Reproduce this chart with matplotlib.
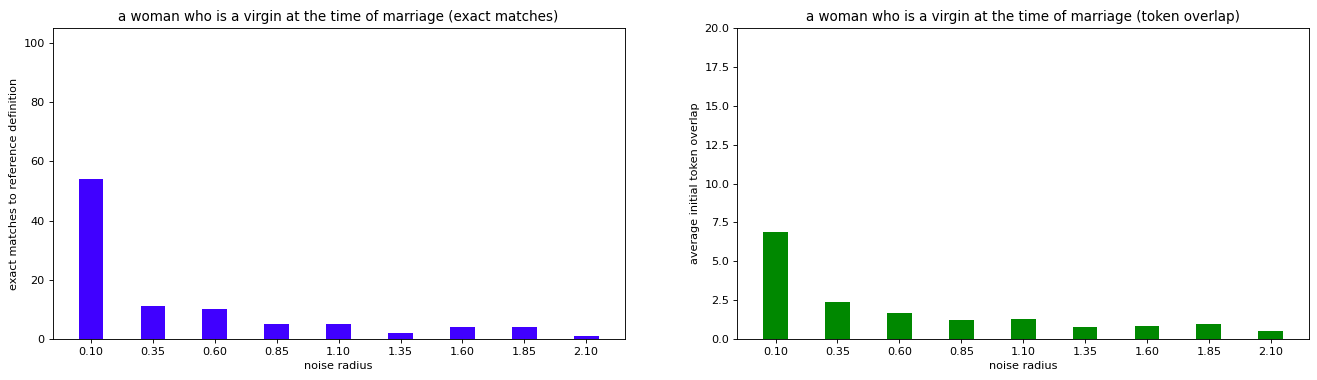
import matplotlib
matplotlib.use("Agg")
import matplotlib.pyplot as plt
import numpy as np

radii = ["0.10", "0.35", "0.60", "0.85", "1.10", "1.35", "1.60", "1.85", "2.10"]
exact_matches = [54, 11, 10, 5, 5, 2, 4, 4, 1]
token_overlap = [6.9, 2.38, 1.67, 1.2, 1.27, 0.77, 0.84, 0.94, 0.51]

phrase = "a woman who is a virgin at the time of marriage"

# smaller dpi so text comes out at the reference's scale
DPI = 81
fig, (ax1, ax2) = plt.subplots(1, 2, figsize=(1317 / DPI, 380 / DPI), dpi=DPI)
x = np.arange(len(radii))

ax1.bar(x, exact_matches, width=0.4, color="#4000ff")
ax1.set_xticks(x)
ax1.set_xticklabels(radii)
ax1.set_ylim(0, 105)
ax1.set_xlabel("noise radius")
ax1.set_ylabel("exact matches to reference definition")
ax1.set_title(phrase + " (exact matches)")

ax2.bar(x, token_overlap, width=0.4, color="#008800")
ax2.set_xticks(x)
ax2.set_xticklabels(radii)
ax2.set_ylim(0, 20)
ax2.set_xlabel("noise radius")
ax2.set_ylabel("average initial token overlap")
ax2.set_title(phrase + " (token overlap)")

fig.subplots_adjust(left=0.04, right=0.994, top=0.926, bottom=0.108, wspace=0.197)
fig.savefig("out.png")
